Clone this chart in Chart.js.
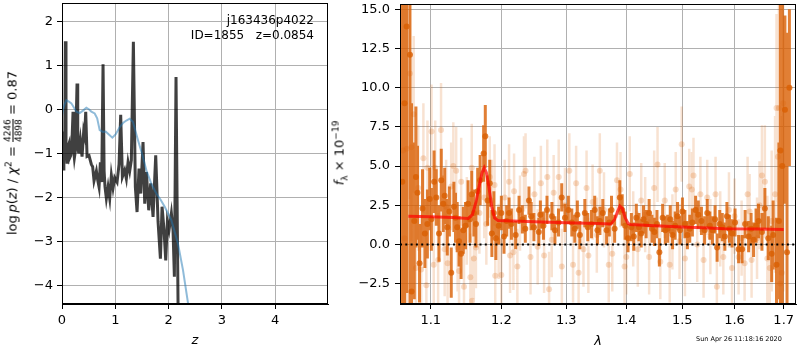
<!DOCTYPE html>
<html>
<head>
<meta charset="utf-8">
<script src="https://cdn.jsdelivr.net/npm/chart.js@4.4.0/dist/chart.umd.min.js"></script>
<style>
  body { margin: 0; width: 800px; height: 350px; background: #fff; position: relative; overflow: hidden; font-family: 'DejaVu Sans', sans-serif; }
  canvas { position: absolute; top: 0; }
  #pzChart { left: 0; }
  #specChart { left: 335px; }
  .ylab { position: absolute; transform: translate(-50%, -50%) rotate(-90deg); white-space: nowrap; font-size: 13px; color: #000; }
  .frac { display: inline-flex; flex-direction: column; vertical-align: middle; font-size: 9px; line-height: 10px; text-align: center; }
  .frac span:first-child { border-bottom: 1px solid #000; }
  #stamp { position: absolute; left: 696px; top: 335px; font-size: 6.5px; color: #000; white-space: nowrap; }
</style>
</head>
<body>
<canvas id="pzChart" width="335" height="350"></canvas>
<canvas id="specChart" width="465" height="350"></canvas>
<div class="ylab" style="left:13px; top:153px;">log&thinsp;<i>p</i>(<i>z</i>) / <i>χ</i><sup style="font-size:9px">2</sup> = <span class="frac"><span>4246</span><span>4898</span></span> = 0.87</div>
<div class="ylab" style="left:340px; top:153px;"><i>f</i><sub style="font-size:9px">λ</sub> × 10<sup style="font-size:9px">−19</sup></div>
<div id="stamp">Sun Apr 26 11:18:16 2020</div>
<script>
// --- p(z) panel ---
const fieldName = 'j163436p4022';
const objId = 1855;
const zBest = 0.0854;

const zTicks = [0, 1, 2, 3, 4];
const pzTicks = [-4, -3, -2, -1, 0, 1, 2];

const zPz = [0, 0.01, 0.02, 0.035, 0.05, 0.063, 0.075, 0.094, 0.11, 0.132,
    0.145, 0.163, 0.185, 0.207, 0.22, 0.232, 0.255, 0.282, 0.295, 0.313,
    0.344, 0.376, 0.407, 0.425, 0.445, 0.47, 0.507, 0.551, 0.575, 0.601,
    0.645, 0.67, 0.695, 0.72, 0.745, 0.77, 0.79, 0.807, 0.832, 0.864,
    0.895, 0.926, 0.958, 0.989, 1.033, 1.07, 1.101, 1.133, 1.176, 1.207,
    1.239, 1.27, 1.301, 1.339, 1.376, 1.408, 1.445, 1.477, 1.52, 1.552,
    1.583, 1.627, 1.664, 1.708, 1.758, 1.802, 1.846, 1.877, 1.914, 1.946,
    1.977, 2.008, 2.052, 2.083, 2.108, 2.139, 2.164, 2.183];
const logPz = [-1.3, -0.5, -1.35, -0.9, -1.1, 1.55, -0.8, -1.2, -0.85, -0.77,
    -1.1, -1.05, -0.8, -0.05, -0.95, -1.1, -0.9, 0.59, -0.7, -1.0,
    -0.69, -1.07, -0.5, -0.6, -0.05, -1.07, -1.05, -1.25, -1.3, -1.62,
    -1.4, -1.6, -1.76, -1.2, -1.65, 1.03, -1.4, -1.76, -2.02, -1.76,
    -2.02, -1.5, -1.78, -1.55, -1.65, -1.25, -0.12, -1.53, -1.38, -1.57,
    -1.2, -1.4, -1.15, 1.54, -1.76, -2.33, -1.34, -1.91, -0.74, -2.14,
    -1.42, -2.29, -1.68, -2.44, -1.04, -2.55, -3.39, -2.21, -2.74, -3.43,
    -2.55, -2.74, -2.36, -2.74, -3.8, 0.74, -2.74, -5.2];

const zChi = [0, 0.02, 0.05, 0.082, 0.13, 0.176, 0.22, 0.27, 0.332, 0.4,
    0.457, 0.51, 0.551, 0.613, 0.66, 0.707, 0.77, 0.82, 0.864, 0.945,
    1.008, 1.083, 1.15, 1.207, 1.27, 1.33, 1.426, 1.5, 1.583, 1.68,
    1.77, 1.85, 1.927, 2.05, 2.176, 2.27, 2.364, 2.45];
const chiCurve = [-0.15, 0.0, 0.12, 0.21, 0.18, 0.14, 0.05, -0.05, -0.08, -0.02,
    0.04, 0.0, -0.05, -0.09, -0.2, -0.47, -0.51, -0.5, -0.55, -0.64,
    -0.56, -0.4, -0.3, -0.25, -0.21, -0.28, -0.7, -1.0, -1.38, -1.7,
    -1.91, -2.05, -2.21, -2.51, -3.05, -3.65, -4.4, -5.2];

// --- spectrum panel ---
const lamTicks = [1.1, 1.2, 1.3, 1.4, 1.5, 1.6, 1.7];
const fluxTicks = [-2.5, 0, 2.5, 5, 7.5, 10, 12.5, 15];

const darkLam = [1.062, 1.065, 1.0677, 1.0721, 1.0742, 1.0778, 1.080, 1.0821, 1.0848, 1.0888,
    1.092, 1.0954, 1.0985, 1.1008, 1.1045, 1.1075, 1.1112, 1.1143, 1.117, 1.119,
    1.1226, 1.1255, 1.1281, 1.1318, 1.134, 1.1364, 1.139, 1.1419, 1.145, 1.1481,
    1.1518, 1.1545, 1.157, 1.16, 1.1631, 1.1655, 1.169, 1.1741, 1.1765, 1.1799,
    1.183, 1.1861, 1.189, 1.1919, 1.196, 1.2, 1.204, 1.208, 1.2115, 1.215,
    1.2214, 1.2265, 1.2315, 1.236, 1.2416, 1.245, 1.2492, 1.2568, 1.2592, 1.264,
    1.2695, 1.2773, 1.282, 1.2877, 1.2928, 1.298, 1.3034, 1.309, 1.3139, 1.318,
    1.3221, 1.3302, 1.335, 1.3411, 1.3465, 1.351, 1.3552, 1.36, 1.3664, 1.371,
    1.3747, 1.38, 1.3888, 1.393, 1.398, 1.403, 1.4088, 1.413, 1.4174, 1.422,
    1.426, 1.43, 1.4347, 1.44, 1.445, 1.4494, 1.454, 1.4583, 1.4642, 1.469,
    1.4732, 1.478, 1.4822, 1.487, 1.4913, 1.496, 1.5004, 1.505, 1.5096, 1.514,
    1.5189, 1.525, 1.53, 1.536, 1.542, 1.547, 1.552, 1.557, 1.562, 1.566,
    1.571, 1.576, 1.581, 1.585, 1.59, 1.595, 1.601, 1.608, 1.615, 1.621,
    1.628, 1.633, 1.638, 1.643, 1.648, 1.655, 1.661, 1.668, 1.675, 1.678,
    1.685, 1.69, 1.693, 1.697, 1.7026, 1.707, 1.712];
const darkFlux = [4.0, 9.0, 13.9, 12.1, -3.0, 1.5, 4.3, 3.3, -1.2, 2.3,
    0.7, 1.3, 2.9, 1.6, 4.0, 3.0, 0.7, 4.1, 2.6, 3.1,
    1.1, 2.1, -1.8, 2.4, 1.7, 1.1, 0.2, -0.6, 0.9, 1.2,
    2.6, 1.6, 3.2, 2.0, 1.3, 3.4, 4.1, 5.8, 6.9, 2.8,
    3.9, 0.7, 2.0, 0.4, 1.2, 2.0, 0.5, 1.5, 2.0, 1.3,
    0.6, 2.2, 1.6, 1.0, 2.8, 1.8, 1.1, 0.8, 1.9, 1.2,
    2.2, 1.8, 0.9, 1.4, 3.0, 1.7, 2.2, 1.4, 1.0, 1.9,
    0.6, 2.0, 1.1, 1.3, 2.2, 0.9, 1.5, 2.0, 0.9, 1.4,
    2.2, 1.0, 3.0, 2.2, 1.2, 0.4, 1.1, 0.5, 1.7, 1.1,
    0.7, 1.6, 1.3, 2.0, 1.0, 0.8, 1.3, -0.5, 1.7, 0.9,
    1.0, 1.6, 0.6, 1.2, 1.8, 0.9, 2.1, 1.3, 0.6, 1.0,
    1.4, 2.2, 1.9, 1.5, 0.9, 2.0, 1.2, 0.9, 1.6, -0.2,
    1.3, 1.1, 0.5, 1.8, 1.0, 0.7, 1.4, -0.3, -0.3, 1.3,
    0.5, 1.0, 0.3, 1.2, 1.5, 0.8, 2.3, 0.4, -0.6, 0.6,
    -1.3, 1.5, 6.0, 5.0, 8.6, -0.5, 10.0];
const darkErr = [25, 20, 17, 16, 12, 5, 4.5, 3, 2.5, 2.5,
    2.2, 2.2, 2, 2, 2, 1.8, 1.8, 2, 1.8, 1.8,
    1.8, 1.6, 1.6, 1.6, 1.6, 1.6, 1.6, 1.6, 1.5, 1.5,
    1.5, 1.5, 1.5, 1.5, 1.5, 1.5, 1.6, 1.8, 2, 1.6,
    1.5, 1.5, 1.4, 1.4, 1.2, 1.1, 1.1, 1.0, 1.0, 1.0,
    0.9, 0.9, 0.9, 0.9, 0.9, 0.9, 0.9, 0.9, 0.9, 0.9,
    0.9, 0.9, 0.9, 0.9, 0.9, 0.9, 0.9, 0.9, 0.9, 0.9,
    0.9, 0.9, 0.9, 0.9, 0.9, 0.9, 0.9, 0.9, 0.9, 0.9,
    0.9, 0.9, 1.1, 1.0, 0.9, 0.9, 0.9, 0.9, 0.9, 0.9,
    0.9, 0.9, 0.9, 0.9, 0.9, 0.9, 0.9, 0.9, 0.9, 0.9,
    0.9, 0.9, 0.9, 0.9, 0.9, 0.9, 0.9, 0.9, 0.9, 0.9,
    0.9, 0.9, 0.9, 0.9, 0.9, 0.9, 0.9, 0.9, 0.9, 0.9,
    0.9, 0.9, 0.9, 0.9, 0.9, 0.9, 0.9, 0.9, 0.9, 0.9,
    1.0, 1.0, 1.1, 1.1, 1.1, 1.2, 1.3, 1.4, 1.8, 2.2,
    3, 5, 20, 20, 6, 14, 5];

const lightLam = [1.063, 1.065, 1.0677, 1.072, 1.074, 1.077, 1.08, 1.083, 1.087, 1.09,
    1.094, 1.0955, 1.101, 1.104, 1.106, 1.11, 1.114, 1.119, 1.121, 1.123,
    1.128, 1.131, 1.135, 1.137, 1.139, 1.142, 1.146, 1.15, 1.155, 1.157,
    1.1575, 1.16, 1.163, 1.168, 1.175, 1.178, 1.183, 1.186, 1.19, 1.191,
    1.196, 1.2, 1.205, 1.2115, 1.213, 1.218, 1.219, 1.224, 1.228, 1.234,
    1.2364, 1.244, 1.25, 1.255, 1.26, 1.265, 1.27, 1.2728, 1.277, 1.28,
    1.288, 1.293, 1.298, 1.305, 1.311, 1.316, 1.32, 1.328, 1.333, 1.336,
    1.343, 1.35, 1.355, 1.362, 1.37, 1.376, 1.384, 1.39, 1.397, 1.4,
    1.406, 1.412, 1.42, 1.426, 1.433, 1.44, 1.449, 1.455, 1.46, 1.468,
    1.477, 1.482, 1.488, 1.495, 1.499, 1.505, 1.513, 1.518, 1.521, 1.528,
    1.534, 1.54, 1.547, 1.553, 1.563, 1.5655, 1.572, 1.578, 1.589, 1.595,
    1.6, 1.608, 1.614, 1.62, 1.626, 1.63, 1.634, 1.645, 1.65, 1.655,
    1.661, 1.666, 1.671, 1.675, 1.682, 1.685, 1.688, 1.69, 1.693, 1.696,
    1.699];
const lightFlux = [6.0, 0.4, 6.1, 10.9, 6.2, 8.3, -1.5, 3.6, -1.6, 5.5,
    -2.6, 4.9, 7.2, -1.3, 4.9, -1.0, 7.3, -0.3, 2.4, -1.2,
    3.7, 5.0, 4.7, -0.2, -1.7, 4.0, -2.7, 1.5, -2.1, 4.9,
    -3.6, -0.9, -0.2, 2.0, 3.0, 1.3, 4.3, 2.8, 3.8, -2.0,
    0.2, -1.95, 3.0, 4.0, -0.7, -0.5, 3.4, -1.4, 2.0, 4.5,
    4.7, -0.8, 3.2, -0.15, 3.9, -0.7, 4.3, -2.86, 0.3, 3.3,
    4.3, -1.4, 2.5, 4.7, -1.3, 3.9, -1.8, -0.3, 3.6, -0.7,
    2.7, 0.6, 4.7, 2.2, -1.3, -0.6, 4.1, 3.5, -1.4, -0.8,
    4.5, 1.0, -0.3, 2.8, 1.9, -0.8, 3.6, 5.1, -1.1, 2.8,
    -1.3, 0.8, 3.5, 0.2, 6.4, -0.9, 3.7, 3.5, 4.4, 0.0,
    3.2, -1.0, 3.0, 0.5, 3.2, -2.7, 1.0, -0.8, 2.2, -1.5,
    1.8, -0.8, 0.4, -1.2, 3.2, 2.1, -1.0, 0.4, 2.5, 4.4,
    4.0, -0.9, -1.5, 1.5, 3.2, 8.7, 5.6, 8.7, -2.5, -1.8,
    9.0];
const lightErr = [20, 15, 10, 8, 6, 5, 4, 4, 3.5, 3.5,
    3.5, 3, 3, 3, 3, 3, 3, 3, 3, 3,
    2.8, 2.8, 2.8, 2.8, 2.8, 2.8, 2.8, 2.8, 2.8, 2.8,
    2.8, 2.6, 2.6, 2.6, 2.6, 2.6, 2.6, 2.6, 2.6, 2.6,
    2.4, 2.4, 2.4, 2.4, 2.4, 2.4, 2.4, 2.4, 2.4, 2.4,
    2.4, 2.4, 2.4, 2.4, 2.4, 2.4, 2.4, 2.4, 2.4, 2.4,
    2.4, 2.4, 2.4, 2.4, 2.4, 2.4, 2.4, 2.4, 2.4, 2.4,
    2.4, 2.4, 2.4, 2.4, 2.4, 2.4, 2.4, 2.4, 2.4, 2.4,
    2.4, 2.4, 2.4, 2.4, 2.4, 2.4, 2.4, 2.4, 2.4, 2.4,
    2.4, 2.4, 2.4, 2.4, 2.4, 2.4, 2.4, 2.4, 2.4, 2.4,
    2.4, 2.4, 2.4, 2.4, 2.4, 2.4, 2.4, 2.4, 2.4, 2.4,
    2.4, 2.4, 2.4, 2.4, 2.4, 2.4, 2.4, 2.6, 2.8, 3.2,
    3.6, 4, 4, 4.5, 5, 6, 7, 8, 8, 10,
    12];

const modelLam = [1.07, 1.10, 1.13, 1.152, 1.158, 1.163, 1.168, 1.172, 1.175, 1.178,
    1.182, 1.186, 1.19, 1.195, 1.25, 1.30, 1.35, 1.374, 1.38, 1.385,
    1.389, 1.393, 1.398, 1.403, 1.407, 1.45, 1.5, 1.55, 1.58, 1.65,
    1.70];
const modelFlux = [1.8, 1.76, 1.72, 1.66, 1.9, 2.7, 3.8, 4.6, 4.9, 4.6,
    3.6, 2.4, 1.7, 1.52, 1.45, 1.39, 1.33, 1.3, 1.6, 2.1,
    2.45, 2.3, 1.7, 1.35, 1.27, 1.2, 1.12, 1.05, 1.0, 0.98,
    0.96];

const lamRange = [1.059, 1.726];
const zeroLevel = [0, 0];

Chart.defaults.font.family = "'DejaVu Sans', sans-serif";
Chart.defaults.font.size = 13;
Chart.defaults.color = '#000';

function toXY(xs, ys) {
    return xs.map((x, i) => ({ x: x, y: ys[i] }));
}

// each bar is two points followed by a gap
function errorbarPoints(lam, flux, err) {
    const pts = [];
    for (let i = 0; i < lam.length; i++) {
        pts.push({ x: lam[i], y: flux[i] - err[i] });
        pts.push({ x: lam[i], y: flux[i] + err[i] });
        pts.push({ x: lam[i], y: null });
    }
    return pts;
}

function minus(s) {
    return String(s).replace('-', '\u2212');
}

// fixed axis sizes so the plot area lands where it should
function fixWidth(w) {
    return s => { s.width = w; s.paddingTop = 0; s.paddingBottom = 0; };
}
function fixHeight(h) {
    return s => { s.height = h; s.paddingLeft = 0; s.paddingRight = 0; };
}

const framePlugin = {
    id: 'frame',
    afterDatasetsDraw(chart) {
        const a = chart.chartArea;
        const ctx = chart.ctx;
        ctx.save();
        ctx.strokeStyle = '#000';
        ctx.lineWidth = 1;
        ctx.strokeRect(a.left + 0.5, a.top + 0.5, a.right - a.left - 1, a.bottom - a.top - 1);
        ctx.restore();
    }
};

const labelPlugin = {
    id: 'fitLabel',
    afterDraw(chart) {
        const a = chart.chartArea;
        const ctx = chart.ctx;
        ctx.save();
        ctx.fillStyle = '#000';
        ctx.font = "12px 'DejaVu Sans'";
        ctx.textAlign = 'right';
        ctx.textBaseline = 'alphabetic';
        ctx.fillText(fieldName, a.right - 14, 24);
        ctx.fillText('ID=' + objId + '   z=' + zBest, a.right - 14, 39);
        ctx.restore();
    }
};

function axis(opts) {
    return Object.assign({
        grid: { color: '#b0b0b0', lineWidth: 1, tickColor: '#000', tickLength: 5 },
        border: { color: '#000', width: 1 },
    }, opts);
}

new Chart(document.getElementById('pzChart'), {
    type: 'line',
    data: {
        datasets: [{
            data: toXY(zChi, chiCurve),
            borderColor: 'rgba(31,119,180,0.5)',
            borderWidth: 2,
            pointRadius: 0,
            clip: 0
        }, {
            data: toXY(zPz, logPz),
            borderColor: 'rgba(0,0,0,0.75)',
            borderWidth: 3,
            pointRadius: 0,
            clip: 0
        }]
    },
    options: {
        responsive: false,
        animation: false,
        events: [],
        layout: { padding: { top: 3, right: 7, left: 0, bottom: 0 } },
        plugins: { legend: { display: false }, tooltip: { enabled: false } },
        scales: {
            x: axis({
                type: 'linear', min: 0, max: 4.99,
                afterBuildTicks: s => { s.ticks = zTicks.map(v => ({ value: v })); },
                afterFit: fixHeight(46),
                ticks: { padding: 4, autoSkip: false, maxRotation: 0, callback: v => minus(v) },
                title: { display: true, text: 'z', font: { size: 13, style: 'italic' }, padding: { top: 0, bottom: 2 } }
            }),
            y: axis({
                type: 'linear', min: -4.42, max: 2.42,
                afterBuildTicks: s => { s.ticks = pzTicks.map(v => ({ value: v })); },
                afterFit: fixWidth(62),
                ticks: { padding: 4, autoSkip: false, callback: v => minus(v) }
            })
        }
    },
    plugins: [framePlugin, labelPlugin]
});

new Chart(document.getElementById('specChart'), {
    type: 'line',
    data: {
        datasets: [{
            data: toXY(lamRange, zeroLevel),
            borderColor: '#000',
            borderWidth: 2,
            borderDash: [2, 3.3],
            pointRadius: 0,
            clip: 0
        }, {
            data: toXY(modelLam, modelFlux),
            borderColor: 'rgba(255,0,0,0.7)',
            borderWidth: 3,
            pointRadius: 0,
            clip: 0
        }, {
            data: toXY(darkLam, darkFlux),
            showLine: false,
            pointRadius: 3,
            pointBorderWidth: 0,
            pointBackgroundColor: 'rgba(217,95,2,0.8)',
            clip: 0
        }, {
            data: errorbarPoints(darkLam, darkFlux, darkErr),
            borderColor: 'rgba(217,95,2,0.8)',
            borderWidth: 3,
            borderCapStyle: 'butt',
            pointRadius: 0,
            spanGaps: false,
            clip: 0
        }, {
            data: toXY(lightLam, lightFlux),
            showLine: false,
            pointRadius: 3,
            pointBorderWidth: 0,
            pointBackgroundColor: 'rgba(217,95,2,0.22)',
            clip: 0
        }, {
            data: errorbarPoints(lightLam, lightFlux, lightErr),
            borderColor: 'rgba(217,95,2,0.18)',
            borderWidth: 2.5,
            borderCapStyle: 'butt',
            pointRadius: 0,
            spanGaps: false,
            clip: 0
        }]
    },
    options: {
        responsive: false,
        animation: false,
        events: [],
        layout: { padding: { top: 3, right: 1, left: 0, bottom: 0 } },
        plugins: { legend: { display: false }, tooltip: { enabled: false } },
        scales: {
            x: axis({
                type: 'logarithmic', min: lamRange[0], max: lamRange[1],
                afterBuildTicks: s => { s.ticks = lamTicks.map(v => ({ value: v })); },
                afterFit: fixHeight(46),
                ticks: { padding: 4, autoSkip: false, maxRotation: 0, callback: v => Number(v).toFixed(1) },
                title: { display: true, text: 'λ', font: { size: 13, style: 'italic' }, padding: { top: 0, bottom: 1 } }
            }),
            y: axis({
                type: 'linear', min: -3.8, max: 15.34,
                afterBuildTicks: s => { s.ticks = fluxTicks.map(v => ({ value: v })); },
                afterFit: fixWidth(65),
                ticks: { padding: 5, autoSkip: false, callback: v => minus(Number(v).toFixed(1)) }
            })
        }
    },
    plugins: [framePlugin]
});
</script>
</body>
</html>
